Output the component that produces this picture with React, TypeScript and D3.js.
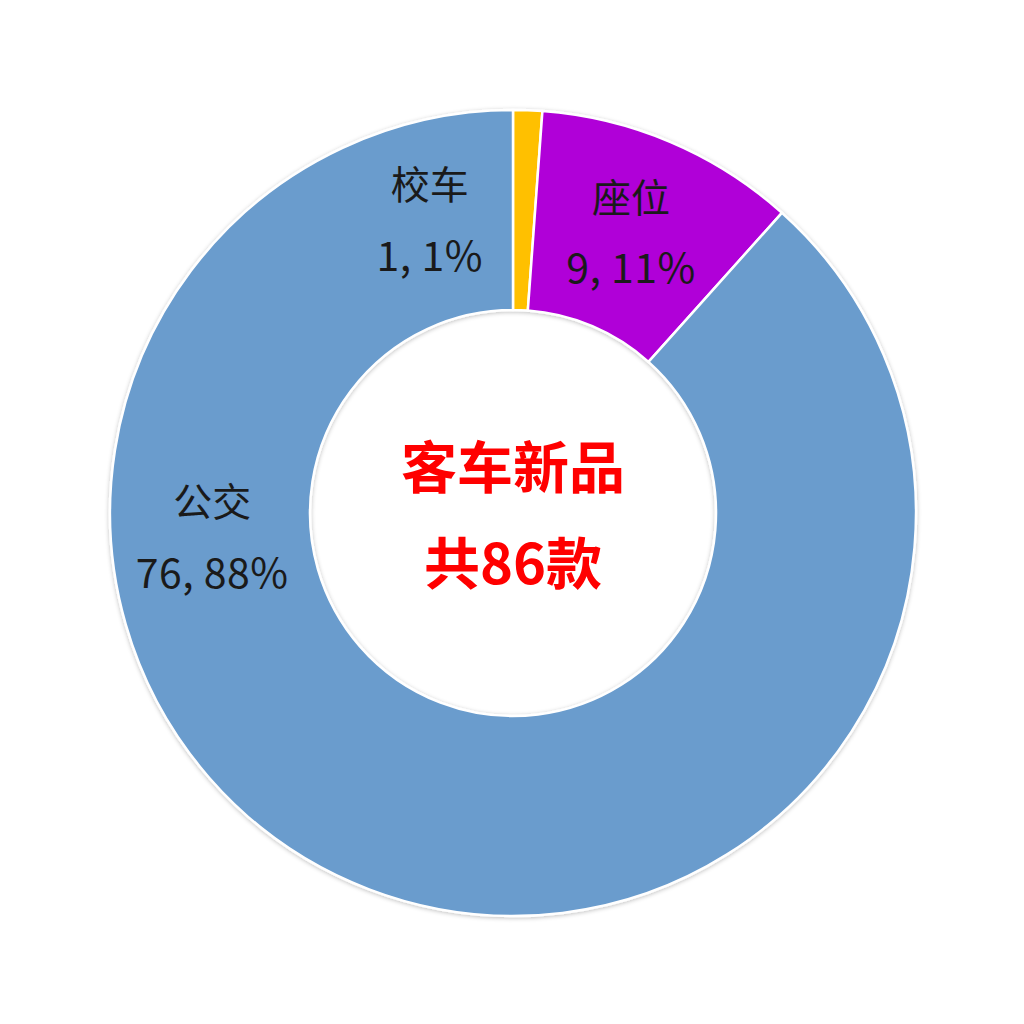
import React, { useEffect, useRef } from "react";
import * as d3 from "d3";

const categories = ["校车", "座位", "公交"];
const values = [1, 9, 76];
const percentLabels = ["1%", "11%", "88%"];
const colors = ["#ffc000", "#b000d8", "#6a9ccd"];
const centerLines = ["客车新品", "共86款"];

// label placement angles (degrees clockwise from 12 o'clock), Excel "best fit" style
const labelAngles = [344, 23, 265];

const W = 1024;
const H = 1024;
const cx = 513;
const cy = 513;
const outerR = 403;
const innerR = 203;
const labelR = 302;

const DonutChart = () => {
  const ref = useRef<SVGSVGElement>(null);

  useEffect(() => {
    const svg = d3.select(ref.current);
    svg.selectAll("*").remove();

    const data = categories.map((c, i) => ({ name: c, value: values[i], pct: percentLabels[i], color: colors[i] }));

    const pie = d3
      .pie<any>()
      .value((d) => d.value)
      .sort(null);

    const arc = d3.arc<any>().innerRadius(innerR).outerRadius(outerR);

    const defs = svg.append("defs");
    const f = defs.append("filter").attr("id", "sh").attr("x", "-10%").attr("y", "-10%").attr("width", "120%").attr("height", "120%");
    f.append("feGaussianBlur").attr("in", "SourceAlpha").attr("stdDeviation", 2);
    f.append("feOffset").attr("dx", 0).attr("dy", 1).attr("result", "b");
    f.append("feFlood").attr("flood-color", "#000").attr("flood-opacity", 0.25);
    f.append("feComposite").attr("in2", "b").attr("operator", "in");
    const m = f.append("feMerge");
    m.append("feMergeNode");
    m.append("feMergeNode").attr("in", "SourceGraphic");

    const g = svg.append("g").attr("transform", `translate(${cx},${cy})`);

    g.append("g")
      .attr("filter", "url(#sh)")
      .selectAll("path")
      .data(pie(data))
      .join("path")
      .attr("d", arc)
      .attr("fill", (d) => d.data.color)
      .attr("stroke", "#ffffff")
      .attr("stroke-width", 2.5);

    const labels = g
      .selectAll("g.lbl")
      .data(data)
      .join("g")
      .attr("class", "lbl")
      .attr("transform", (d, i) => {
        const a = (labelAngles[i] * Math.PI) / 180;
        return `translate(${labelR * Math.sin(a)},${-labelR * Math.cos(a)})`;
      });

    labels
      .append("text")
      .attr("text-anchor", "middle")
      .attr("y", -37)
      .attr("dy", "0.35em")
      .attr("font-family", "'Noto Sans CJK SC', 'Noto Sans', sans-serif")
      .attr("font-size", 39)
      .attr("fill", "#1a1a1a")
      .text((d) => d.name);

    labels
      .append("text")
      .attr("text-anchor", "middle")
      .attr("y", 34)
      .attr("dy", "0.35em")
      .attr("font-family", "'Noto Sans CJK SC', 'Noto Sans', sans-serif")
      .attr("font-size", 41)
      .attr("letter-spacing", 0.5)
      .attr("fill", "#1a1a1a")
      .text((d) => `${d.value}, ${d.pct}`);

    g.selectAll("text.center")
      .data(centerLines)
      .join("text")
      .attr("class", "center")
      .attr("text-anchor", "middle")
      .attr("x", 0)
      .attr("y", (d, i) => -45 + i * 96)
      .attr("dy", "0.35em")
      .attr("font-family", "'Noto Sans CJK SC', sans-serif")
      .attr("font-weight", "bold")
      .attr("font-size", 56)
      .attr("fill", "#ff0000")
      .text((d) => d);
  }, []);

  return <svg ref={ref} width={W} height={H} style={{ display: "block", background: "#fff" }} />;
};

export default function App() {
  return (
    <div style={{ margin: -8 }}>
      <DonutChart />
    </div>
  );
}
